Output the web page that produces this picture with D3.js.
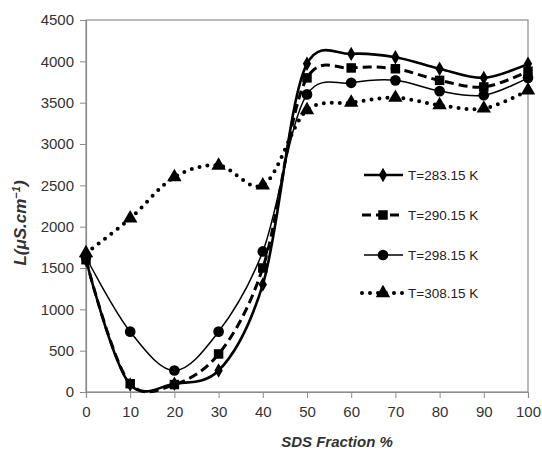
<!DOCTYPE html>
<html><head><meta charset="utf-8">
<script src="https://cdn.jsdelivr.net/npm/d3@7"></script>
<style>body{margin:0;background:#fff}</style>
</head><body>
<svg id="c" width="542" height="457"></svg>
<script>
const xVals = [0,10,20,30,40,50,60,70,80,90,100];
const s283 = [1600,90,100,260,1300,3970,4090,4050,3910,3800,3970];
const s290 = [1600,100,90,460,1500,3800,3920,3910,3770,3690,3880];
const s298 = [1630,730,260,730,1700,3600,3740,3770,3640,3590,3800];
const s308 = [1680,2100,2600,2740,2500,3410,3500,3560,3470,3430,3650];
const seriesNames = ["T=283.15 K","T=290.15 K","T=298.15 K","T=308.15 K"];
const xTicks = [0,10,20,30,40,50,60,70,80,90,100];
const yTicks = [0,500,1000,1500,2000,2500,3000,3500,4000,4500];

const svg = d3.select("#c");
const L=86,R=528,T=20,B=392;
const x = d3.scaleLinear().domain([0,100]).range([L,R]);
const y = d3.scaleLinear().domain([0,4500]).range([B,T]);
const font = "'Liberation Sans', Arial, sans-serif";

svg.append("rect").attr("x",L).attr("y",T).attr("width",R-L).attr("height",B-T)
  .attr("fill","none").attr("stroke","#8c8c8c").attr("stroke-width",1.2);

const ya = svg.append("g").attr("transform",`translate(${L},0)`)
  .call(d3.axisLeft(y).tickValues(yTicks).tickFormat(d3.format("d")).tickSizeOuter(0).tickSize(6).tickPadding(6));
const xa = svg.append("g").attr("transform",`translate(0,${B})`)
  .call(d3.axisBottom(x).tickValues(xTicks).tickFormat(d3.format("d")).tickSizeOuter(0).tickSize(6).tickPadding(8));
[ya,xa].forEach(a=>{
  a.select(".domain").attr("stroke","#8c8c8c").attr("stroke-width",1.2);
  a.selectAll(".tick line").attr("stroke","#8c8c8c");
  a.selectAll("text").attr("font-family",font).attr("font-size",15).attr("fill","#333");
});

const styles = [
  {data:s283, w:2.6, dash:null, cap:"butt", m:"diamond"},
  {data:s290, w:3, dash:"9,5", cap:"butt", m:"square"},
  {data:s298, w:1.5, dash:null, cap:"butt", m:"circle"},
  {data:s308, w:4, dash:"0,8", cap:"round", m:"triangle"}
];
const sym = {diamond:[d3.symbolDiamond,60], square:[d3.symbolSquare,90], circle:[d3.symbolCircle,90], triangle:[d3.symbolTriangle,90]};
const line = d3.line().x(d=>x(d[0])).y(d=>y(d[1])).curve(d3.curveCatmullRom.alpha(0.2));

styles.forEach(s=>{
  const pts = xVals.map((v,i)=>[v,s.data[i]]);
  svg.append("path").attr("d",line(pts)).attr("fill","none").attr("stroke","#000")
    .attr("stroke-width",s.w).attr("stroke-dasharray",s.dash).attr("stroke-linecap",s.cap);
  svg.append("g").selectAll("path").data(pts).join("path")
    .attr("transform",d=>`translate(${x(d[0])},${y(d[1])})`)
    .attr("d",d3.symbol().type(sym[s.m][0]).size(sym[s.m][1])).attr("fill","#000");
});

const ly = [175,215,255,293];
styles.forEach((s,i)=>{
  const g = svg.append("g").attr("transform",`translate(0,${ly[i]})`);
  g.append("line").attr("x1",s.m==="square"||s.m==="triangle"?362:364).attr("x2",403).attr("y1",0).attr("y2",0)
    .attr("stroke","#000").attr("stroke-width",s.w).attr("stroke-dasharray",s.dash).attr("stroke-linecap",s.cap);
  g.append("path").attr("transform","translate(383,0)")
    .attr("d",d3.symbol().type(sym[s.m][0]).size(sym[s.m][1])).attr("fill","#000");
  g.append("text").attr("x",408).attr("y",5).attr("font-family",font).attr("font-size",13.5)
    .attr("fill","#222").text(seriesNames[i]);
});

svg.append("text").attr("x",337).attr("y",447).attr("text-anchor","middle")
  .attr("font-family",font).attr("font-size",15).attr("font-weight","bold").attr("font-style","italic")
  .attr("fill","#333").text("SDS Fraction %");
const yt = svg.append("text").attr("transform","translate(26,223) rotate(-90)").attr("text-anchor","middle")
  .attr("font-family",font).attr("font-size",17).attr("font-weight","bold").attr("font-style","italic").attr("fill","#333");
yt.append("tspan").text("L(μS.cm");
yt.append("tspan").attr("dy",-6).attr("font-size",11).text("−1");
yt.append("tspan").attr("dy",6).text(")");
</script>
</body></html>
